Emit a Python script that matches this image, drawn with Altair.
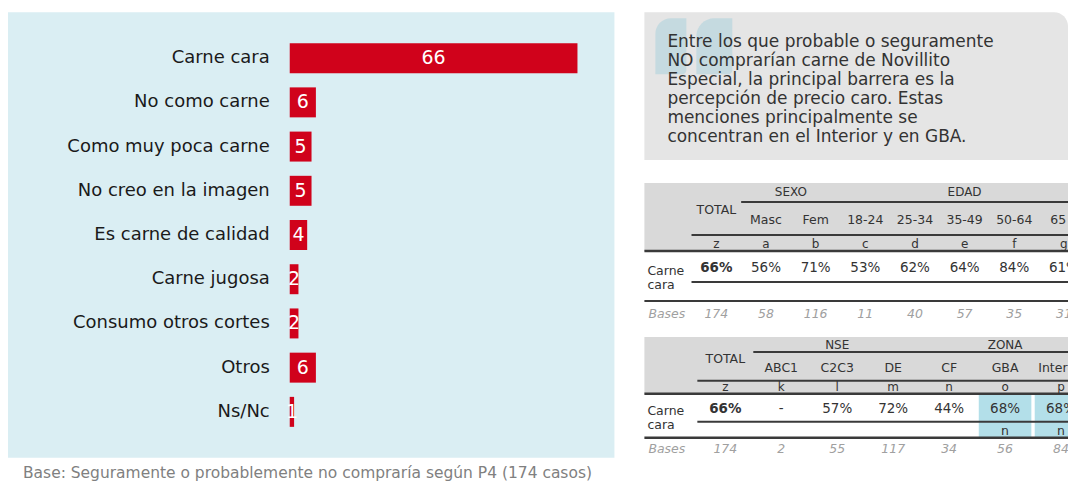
import altair as alt
import pandas as pd

# ---------------- data ----------------
categories = ["Carne cara", "No como carne", "Como muy poca carne", "No creo en la imagen",
              "Es carne de calidad", "Carne jugosa", "Consumo otros cortes", "Otros", "Ns/Nc"]
values = [66, 6, 5, 5, 4, 2, 2, 6, 1]
footnote = "Base: Seguramente o probablemente no compraría según P4 (174 casos)"

quote_lines = ["Entre los que probable o seguramente",
               "NO comprarían carne de Novillito",
               "Especial, la principal barrera es la",
               "percepción de precio caro. Estas",
               "menciones principalmente se",
               "concentran en el Interior y en GBA."]

row_label = "Carne cara"
bases_label = "Bases"

t1_cols = ["TOTAL", "Masc", "Fem", "18-24", "25-34", "35-49", "50-64", "65 y"]
t1_groups = ["", "SEXO", "SEXO", "EDAD", "EDAD", "EDAD", "EDAD", "EDAD"]
t1_letters = ["z", "a", "b", "c", "d", "e", "f", "g"]
t1_values = [66, 56, 71, 53, 62, 64, 84, 61]
t1_sig = ["", "", "", "", "", "", "", ""]
t1_bases = [174, 58, 116, 11, 40, 57, 35, 31]

t2_cols = ["TOTAL", "ABC1", "C2C3", "DE", "CF", "GBA", "Interior"]
t2_groups = ["", "NSE", "NSE", "NSE", "ZONA", "ZONA", "ZONA"]
t2_letters = ["z", "k", "l", "m", "n", "o", "p"]
t2_values = [66, None, 57, 72, 44, 68, 68]
t2_sig = ["", "", "", "", "", "n", "n"]
t2_bases = [174, 2, 55, 117, 34, 56, 84]

# ---------------- style ----------------
FONT = "DejaVu Sans"
BLUE = "#daeef3"
RED = "#d0021b"
QGRAY = "#e5e5e5"
HGRAY = "#d9d9d9"
HL = "#b3dfe9"
QMARK = "#c5dae0"
LINE = "#3a3a3a"
TXT = "#333333"
RIGHT_W = 424

one = pd.DataFrame({"k": [0]})

# ---------------- left: bar chart ----------------
bar_df = pd.DataFrame({"cat": categories, "val": values})
ysc = alt.Scale(paddingInner=0.322, paddingOuter=0.70)
xsc = alt.Scale(domain=[0, 66], range=[282, 570], nice=False, zero=True)
Yb = alt.Y("cat:N", sort=categories, scale=ysc, axis=None)

bbase = alt.Chart(bar_df)
bars = bbase.mark_bar(color=RED).encode(y=Yb, x=alt.X("val:Q", scale=xsc, axis=None))
vlabels = bbase.transform_calculate(mid="datum.val / 2").mark_text(
    color="white", fontSize=19, font=FONT, baseline="middle"
).encode(y=Yb, x=alt.X("mid:Q", scale=xsc, axis=None), text="val:Q")
clabels = bbase.mark_text(align="right", baseline="middle", fontSize=18, font=FONT,
                          color="#1a1a1a").encode(y=Yb, x=alt.value(262), text="cat:N")
foot = alt.Chart(pd.DataFrame({"t": [footnote]})).mark_text(
    align="left", baseline="middle", fontSize=15.5, font=FONT, color="#808080"
).encode(x=alt.value(15), y=alt.value(461), text="t:N")

left = alt.layer(bars, vlabels, clabels, foot).properties(
    width=607, height=446, view=alt.ViewBackground(fill=BLUE, stroke=None)
)

# ---------------- right: quote box ----------------
qdf = pd.DataFrame({"line": quote_lines, "i": list(range(len(quote_lines)))})
o1 = alt.Chart(pd.DataFrame(one))
box = o1.mark_rect(color=QGRAY, cornerRadiusTopRight=14).encode(
    x=alt.value(0), x2=alt.value(RIGHT_W), y=alt.value(0), y2=alt.value(148))
qmark1 = o1.mark_rect(color=QMARK, cornerRadiusTopLeft=20, cornerRadiusBottomRight=4).encode(
    x=alt.value(11), x2=alt.value(42), y=alt.value(6), y2=alt.value(62))
qmark2 = o1.mark_rect(color=QMARK, cornerRadiusTopLeft=20, cornerRadiusBottomRight=4).encode(
    x=alt.value(52), x2=alt.value(88), y=alt.value(6), y2=alt.value(62))
qtext = alt.Chart(qdf).mark_text(align="left", baseline="middle", fontSize=17, font=FONT,
                                 color=TXT).encode(
    x=alt.value(23),
    y=alt.Y("i:Q", scale=alt.Scale(domain=[0, 5], range=[30, 125]), axis=None),
    text="line:N")
quote = alt.layer(box, qmark1, qmark2, qtext).properties(width=RIGHT_W, height=159)


# ---------------- right: tables ----------------
def make_table(cols, groups, letters, vals, sig, bases, L):
    n = len(cols)
    df = pd.DataFrame({
        "i": list(range(n)), "col": cols, "grp": groups, "let": letters,
        "val": [f"{v}%" if v is not None else "-" for v in vals],
        "sig": sig, "base": [str(b) for b in bases]})
    x0, step = L["x0"], L["step"]
    xs = alt.Scale(domain=[0, n - 1], range=[x0, x0 + (n - 1) * step], nice=False, zero=False)

    def X(f):
        return alt.X(f, scale=xs, axis=None)

    c = alt.Chart(df)
    o = alt.Chart(pd.DataFrame(one))
    layers = [o.mark_rect(color=HGRAY).encode(
        x=alt.value(0), x2=alt.value(RIGHT_W), y=alt.value(0), y2=alt.value(L["gray_h"]))]
    if any(s != "" for s in sig):
        layers.append(c.transform_filter("datum.sig != ''").transform_calculate(
            a="datum.i - 0.47", b="datum.i + 0.47").mark_rect(color=HL, clip=True).encode(
            x=X("a:Q"), x2="b:Q", y=alt.value(L["hl"][0]), y2=alt.value(L["hl"][1])))
    for (yy, start, w) in L["rules"]:
        xstart = 0 if start is None else x0 + start * step
        layers.append(o.mark_rule(color=LINE, strokeWidth=w).encode(
            x=alt.value(xstart), x2=alt.value(RIGHT_W), y=alt.value(yy)))
    hfont = dict(font=FONT, color=TXT, baseline="middle", clip=True)
    layers.append(c.transform_filter("datum.grp != ''").transform_aggregate(
        mi="mean(i)", groupby=["grp"]).mark_text(fontSize=12, **hfont).encode(
        x=X("mi:Q"), y=alt.value(L["grp_y"]), text="grp:N"))
    layers.append(c.transform_filter("datum.i == 0").mark_text(fontSize=12.5, **hfont).encode(
        x=X("i:Q"), y=alt.value(L["total_y"]), text="col:N"))
    layers.append(c.transform_filter("datum.i > 0").mark_text(fontSize=12.5, **hfont).encode(
        x=X("i:Q"), y=alt.value(L["sub_y"]), text="col:N"))
    layers.append(c.mark_text(fontSize=12, **hfont).encode(
        x=X("i:Q"), y=alt.value(L["let_y"]), text="let:N"))
    layers.append(c.transform_filter("datum.i == 0").mark_text(
        fontSize=13.5, fontWeight="bold", **hfont).encode(
        x=X("i:Q"), y=alt.value(L["data_y"]), text="val:N"))
    layers.append(c.transform_filter("datum.i > 0").mark_text(fontSize=13.5, **hfont).encode(
        x=X("i:Q"), y=alt.value(L["data_y"]), text="val:N"))
    if any(s != "" for s in sig):
        layers.append(c.transform_filter("datum.sig != ''").mark_text(fontSize=12.5, **hfont).encode(
            x=X("i:Q"), y=alt.value(L["sig_y"]), text="sig:N"))
    layers.append(alt.Chart(pd.DataFrame({"t": [row_label]})).mark_text(
        fontSize=12.5, font=FONT, color=TXT, align="left", baseline="middle",
        lineBreak=" ", lineHeight=14).encode(
        x=alt.value(3), y=alt.value(L["carne_y"]), text="t:N"))
    bfont = dict(font=FONT, color="#a0a0a0", fontStyle="italic", fontSize=12.5,
                 baseline="middle", clip=True)
    layers.append(alt.Chart(pd.DataFrame({"t": [bases_label]})).mark_text(
        align="left", **bfont).encode(x=alt.value(4), y=alt.value(L["base_y"]), text="t:N"))
    layers.append(c.mark_text(**bfont).encode(
        x=X("i:Q"), y=alt.value(L["base_y"]), text="base:N"))
    return alt.layer(*layers).properties(width=RIGHT_W, height=L["h"])


L1 = dict(x0=72, step=49.7, h=142, gray_h=68, grp_y=9, total_y=27, sub_y=37, let_y=61,
          data_y=85, carne_y=88, base_y=131, sig_y=0, hl=(0, 0),
          rules=[(19, 0.5, 2), (52, -0.5, 2), (68, None, 2.5), (99, -0.5, 2), (118, None, 2)])
L2 = dict(x0=81, step=56, h=123, gray_h=57, grp_y=8, total_y=22, sub_y=31, let_y=50,
          data_y=72, carne_y=74, base_y=112, sig_y=94, hl=(57, 101),
          rules=[(15, 0.5, 2), (44, -0.5, 2), (57, None, 2.5), (85, -0.5, 2), (101, None, 2.5)])

table1 = make_table(t1_cols, t1_groups, t1_letters, t1_values, t1_sig, t1_bases, L1)
table2 = make_table(t2_cols, t2_groups, t2_letters, t2_values, t2_sig, t2_bases, L2)

right = alt.vconcat(quote, table1, table2, spacing=12, bounds="flush")

chart = alt.hconcat(left, right, spacing=30, bounds="flush").properties(
    padding={"left": 0, "top": 4, "right": 0, "bottom": 0}
).configure_view(stroke=None)

chart.save("out.html", embed_options={"renderer": "svg", "actions": False})
